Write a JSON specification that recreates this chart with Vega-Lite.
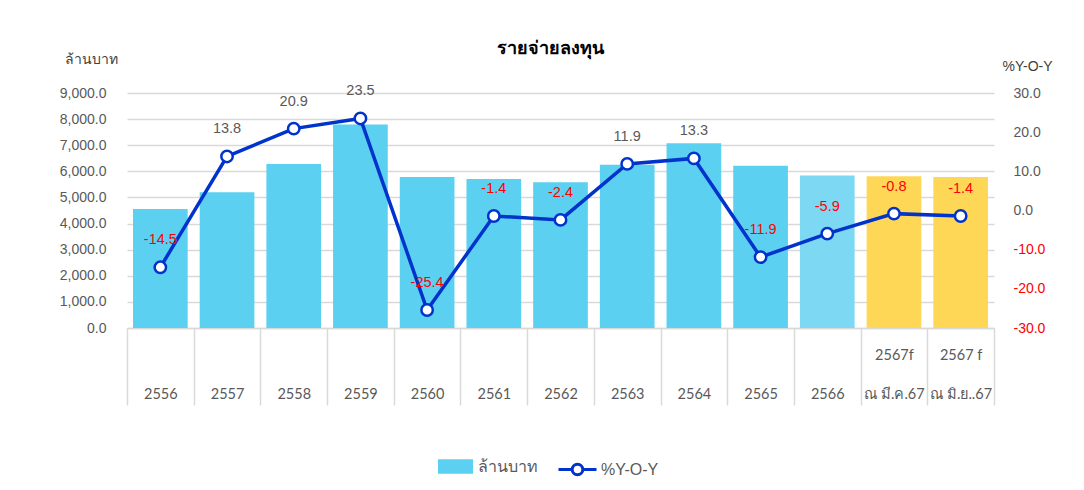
{
  "$schema": "https://vega.github.io/schema/vega-lite/v6.json",
  "width": 867,
  "height": 235,
  "autosize": {"type": "none"},
  "padding": {"left": 127, "top": 93, "right": 90, "bottom": 162},
  "background": "white",
  "title": {"text": "รายจ่ายลงทุน", "fontSize": 18, "fontWeight": "bold", "color": "#000000", "font": "Liberation Sans", "anchor": "middle", "dx": -10, "dy": 14, "offset": 8},
  "config": {
    "view": {"stroke": null},
    "font": "Liberation Sans",
    "locale": {"number": {"decimal": ".", "thousands": ",", "grouping": [3], "currency": ["$", ""], "minus": "-"}}
  },
  "data": {
    "values": [
      {"year": "2556", "value": 4560, "yoy": -14.5, "kind": "ล้านบาท"},
      {"year": "2557", "value": 5200, "yoy": 13.8, "kind": "ล้านบาท"},
      {"year": "2558", "value": 6280, "yoy": 20.9, "kind": "ล้านบาท"},
      {"year": "2559", "value": 7790, "yoy": 23.5, "kind": "ล้านบาท"},
      {"year": "2560", "value": 5780, "yoy": -25.4, "kind": "ล้านบาท"},
      {"year": "2561", "value": 5710, "yoy": -1.4, "kind": "ล้านบาท"},
      {"year": "2562", "value": 5580, "yoy": -2.4, "kind": "ล้านบาท"},
      {"year": "2563", "value": 6250, "yoy": 11.9, "kind": "ล้านบาท"},
      {"year": "2564", "value": 7075, "yoy": 13.3, "kind": "ล้านบาท"},
      {"year": "2565", "value": 6210, "yoy": -11.9, "kind": "ล้านบาท"},
      {"year": "2566", "value": 5840, "yoy": -5.9, "kind": "2566"},
      {"year": "2567f", "value": 5810, "yoy": -0.8, "kind": "ประมาณการ"},
      {"year": "2567 f", "value": 5785, "yoy": -1.4, "kind": "ประมาณการ"}
    ]
  },
  "encoding": {
    "x": {
      "field": "year",
      "type": "nominal",
      "sort": null,
      "scale": {"paddingInner": 0, "paddingOuter": 0},
      "axis": {
        "title": null,
        "labelAngle": 0,
        "labelExpr": "datum.value == '2567f' ? ['2567f', 'ณ มี.ค.67'] : datum.value == '2567 f' ? ['2567 f', 'ณ มิ.ย..67'] : ['', datum.value]",
        "labelLineHeight": 39,
        "labelBaseline": "top",
        "labelPadding": -57,
        "labelFont": "Lato",
        "labelFontSize": 14.5,
        "labelColor": "#595959",
        "tickBand": "extent",
        "tickSize": 77,
        "tickColor": "#d9d9d9",
        "tickWidth": 1.5,
        "domainColor": "#d9d9d9",
        "domainWidth": 1.5,
        "grid": false
      }
    }
  },
  "layer": [
    {
      "mark": {"type": "bar", "width": {"band": 0.82}},
      "encoding": {
        "y": {
          "field": "value",
          "type": "quantitative",
          "scale": {"domain": [0, 9000], "nice": false},
          "axis": {
            "orient": "left",
            "format": ",.1f",
            "values": [0, 1000, 2000, 3000, 4000, 5000, 6000, 7000, 8000, 9000],
            "grid": true,
            "gridColor": "#d9d9d9",
            "gridWidth": 1.5,
            "domain": false,
            "ticks": false,
            "labelOverlap": false,
            "labelPadding": 21,
            "labelFontSize": 14,
            "labelColor": "#595959",
            "title": "ล้านบาท",
            "titleAngle": 0,
            "titleX": -36,
            "titleY": -34,
            "titleAlign": "center",
            "titleBaseline": "middle",
            "titleFontWeight": "normal",
            "titleFontSize": 14,
            "titleColor": "#404040"
          }
        },
        "color": {
          "field": "kind",
          "type": "nominal",
          "scale": {"domain": ["ล้านบาท", "2566", "ประมาณการ"], "range": ["#5BD0F1", "#7DD9F3", "#FFD757"]},
          "legend": {
            "values": ["ล้านบาท"],
            "title": null,
            "orient": "none",
            "legendX": 311,
            "legendY": 356,
            "symbolType": "M-1,-0.42H1V0.42H-1Z",
            "symbolSize": 1225,
            "symbolStrokeWidth": 0,
            "labelFontSize": 16,
            "labelColor": "#595959",
            "labelOffset": 5
          }
        }
      }
    },
    {
      "encoding": {
        "y": {
          "field": "yoy",
          "type": "quantitative",
          "scale": {"domain": [-30, 30], "nice": false},
          "axis": {
            "orient": "right",
            "format": ".1f",
            "values": [-30, -20, -10, 0, 10, 20, 30],
            "grid": false,
            "domain": false,
            "ticks": false,
            "labelOverlap": false,
            "labelPadding": 19,
            "labelFontSize": 14,
            "labelColor": {"condition": {"test": "datum.value < 0", "value": "#FF0000"}, "value": "#595959"},
            "title": "%Y-O-Y",
            "titleAngle": 0,
            "titleX": 33,
            "titleY": -27,
            "titleAlign": "center",
            "titleBaseline": "middle",
            "titleFontWeight": "normal",
            "titleFontSize": 14,
            "titleColor": "#404040"
          }
        }
      },
      "layer": [
        {
          "mark": {"type": "line", "strokeWidth": 3.5},
          "encoding": {
            "stroke": {
              "datum": "%Y-O-Y",
              "type": "nominal",
              "scale": {"range": ["#0033CC"]},
              "legend": {
                "title": null,
                "orient": "none",
                "legendX": 430,
                "legendY": 356,
                "symbolType": "M-1,0H-0.28A0.28,0.28 0 1,1 0.28,0H1M0.28,0A0.28,0.28 0 1,1 -0.28,0",
                "symbolSize": 1444,
                "symbolStrokeWidth": 3,
                "symbolFillColor": "white",
                "symbolStrokeColor": "#0033CC",
                "labelFontSize": 16,
                "labelColor": "#595959",
                "labelOffset": 3
              }
            }
          }
        },
        {
          "mark": {"type": "point", "filled": true, "fill": "white", "stroke": "#0033CC", "strokeWidth": 2.5, "size": 130, "opacity": 1},
          "encoding": {}
        },
        {
          "mark": {"type": "text", "dy": -27, "fontSize": 14.5, "baseline": "middle"},
          "encoding": {
            "text": {"field": "yoy", "type": "quantitative", "format": ".1f"},
            "color": {"condition": {"test": "datum.yoy < 0", "value": "#FF0000"}, "value": "#595959"}
          }
        }
      ]
    }
  ],
  "resolve": {"scale": {"y": "independent"}}
}
